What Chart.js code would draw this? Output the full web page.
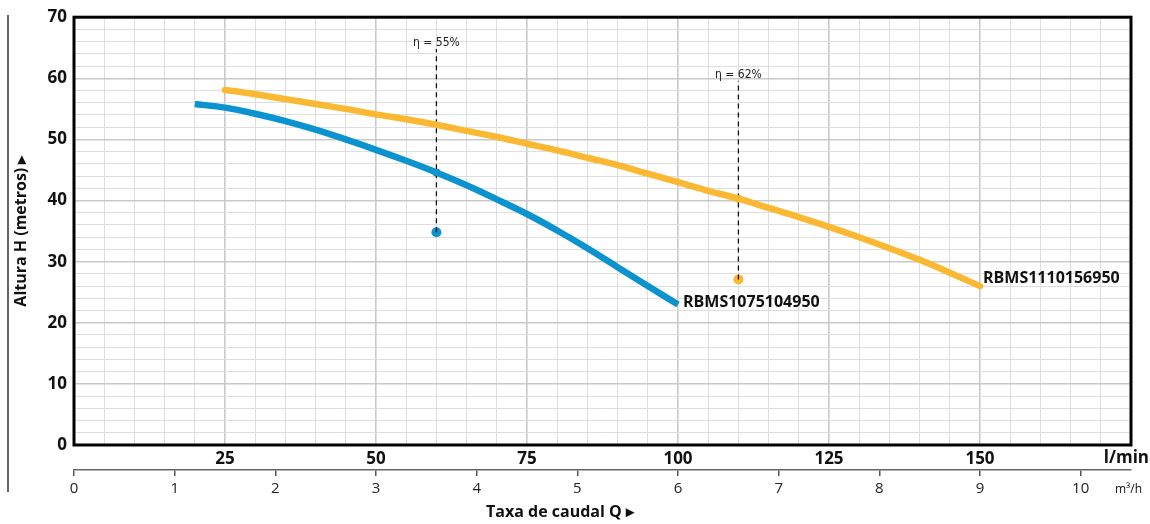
<!DOCTYPE html>
<html>
<head>
<meta charset="utf-8">
<script src="https://cdn.jsdelivr.net/npm/chart.js@4"></script>
<style>
  html, body { margin: 0; padding: 0; background: #fff; }
  #wrap { width: 1150px; height: 524px; }
</style>
</head>
<body>
<div id="wrap"><canvas id="pump-chart" width="1150" height="524"></canvas></div>
<script>
// flow in l/min, head in metres
const flowA = [20, 25, 30, 35, 40, 45, 50, 55, 60, 65, 70, 75, 80, 85, 90, 95, 100];
const headA = [55.8, 55.2, 54.2, 53.0, 51.6, 50.0, 48.3, 46.5, 44.6, 42.5, 40.2, 37.8, 35.1, 32.2, 29.1, 26.0, 23.0];
const flowB = [25, 30, 35, 40, 45, 50, 55, 60, 65, 70, 75, 80, 85, 90, 95, 100, 105, 110, 115, 120, 125, 130, 135, 140, 145, 150];
const headB = [58.1, 57.4, 56.6, 55.8, 55.0, 54.1, 53.3, 52.4, 51.4, 50.4, 49.3, 48.2, 47.0, 45.8, 44.4, 43.0, 41.6, 40.3, 38.8, 37.3, 35.7, 34.0, 32.2, 30.3, 28.2, 26.0];
const models = ['RBMS1075104950', 'RBMS1110156950'];

// best efficiency markers
const effFlow = [60, 110];
const effHead = [34.8, 27.1];
const effTop = [64.8, 59.6];
const effText = ['η = 55%', 'η = 62%'];

const lminLabels = [25, 50, 75, 100, 125, 150];
const m3hLabels = [0, 1, 2, 3, 4, 5, 6, 7, 8, 9, 10];

const blue = '#0b93cf';
const yellow = '#fbb832';
const font = "'Open Sans', 'Noto Sans', sans-serif";

const pts = (xs, ys) => xs.map((x, i) => ({x: x, y: ys[i]}));

const datasets = [
  {data: pts(flowA, headA), borderColor: blue, borderWidth: 6.5, pointRadius: 0, cubicInterpolationMode: 'monotone', borderCapStyle: 'butt'},
  {data: pts(flowB, headB), borderColor: yellow, borderWidth: 6.5, pointRadius: 0, cubicInterpolationMode: 'monotone', borderCapStyle: 'round'}
];
const effColors = [blue, yellow];
const onCurve = [headA[flowA.indexOf(60)], headB[flowB.indexOf(110)]];
effFlow.forEach((f, i) => {
  datasets.push({data: [{x: f, y: effHead[i]}, {x: f, y: effTop[i]}], borderColor: '#111', borderWidth: 1.3, borderDash: [5, 4], pointRadius: 0});
  datasets.push({data: [{x: f, y: effHead[i]}, {x: f, y: onCurve[i]}], showLine: false, pointRadius: [5, 4], pointBackgroundColor: effColors[i], pointBorderWidth: 0});
});

const extras = {
  id: 'extras',
  afterDatasetsDraw(chart) {
    const {ctx, chartArea: a, scales} = chart;
    const x = scales.x, y = scales.y;
    ctx.save();
    // frame
    ctx.strokeStyle = '#000';
    ctx.lineWidth = 3;
    ctx.strokeRect(a.left, a.top, a.right - a.left, a.bottom - a.top);
    // left rule
    ctx.strokeStyle = '#333';
    ctx.lineWidth = 1.5;
    ctx.beginPath();
    ctx.moveTo(8, 15);
    ctx.lineTo(8, 492);
    ctx.stroke();
    // efficiency labels
    ctx.fillStyle = '#222';
    ctx.font = "12px 'Liberation Sans Narrow', 'DejaVu Sans Condensed', sans-serif";
    ctx.textAlign = 'center';
    ctx.textBaseline = 'middle';
    effFlow.forEach((f, i) => {
      ctx.fillText(effText[i], x.getPixelForValue(f), y.getPixelForValue(effTop[i]) - 6);
    });
    // model labels at curve ends
    ctx.fillStyle = '#111';
    ctx.font = 'bold 16px ' + font;
    ctx.textAlign = 'left';
    const la = flowA.length - 1, lb = flowB.length - 1;
    ctx.fillText(models[0], x.getPixelForValue(flowA[la]) + 5, y.getPixelForValue(headA[la]) - 2);
    ctx.fillText(models[1], x.getPixelForValue(flowB[lb]) + 3, y.getPixelForValue(headB[lb]) - 8);
    // unit labels and x title
    ctx.font = 'bold 17px ' + font;
    ctx.textAlign = 'right';
    ctx.fillText('l/min', 1149, 458);
    ctx.font = '12px ' + font;
    ctx.textAlign = 'left';
    ctx.fillText('m³/h', 1115, 490);
    ctx.font = 'bold 16px ' + font;
    ctx.textAlign = 'center';
    ctx.fillText('Taxa de caudal Q ▸', 560, 512);
    ctx.restore();
  }
};

new Chart(document.getElementById('pump-chart'), {
  type: 'line',
  data: {datasets: datasets},
  plugins: [extras],
  options: {
    responsive: false,
    animation: false,
    events: [],
    layout: {padding: {top: 16, right: 19, left: 0, bottom: 0}},
    plugins: {legend: {display: false}, tooltip: {enabled: false}},
    scales: {
      x: {
        type: 'linear', position: 'bottom', min: 0, max: 175,
        afterFit: s => { s.height = 25; },
        border: {display: false},
        grid: {
          drawTicks: false,
          color: c => c.tick.value % 25 === 0 ? '#c9c9c9' : '#dedede',
          lineWidth: c => c.tick.value % 25 === 0 ? 1.6 : 1
        },
        ticks: {
          stepSize: 5, autoSkip: false, maxRotation: 0, padding: 4,
          color: '#111', font: {family: font, size: 17, weight: 'bold'},
          callback: v => lminLabels.includes(v) ? String(v) : ''
        }
      },
      m3h: {
        type: 'linear', position: 'bottom', min: 0, max: 10.5,
        afterFit: s => { s.height = 54; },
        border: {display: true, color: '#666', width: 1.5},
        grid: {drawOnChartArea: false, drawTicks: true, tickLength: 6, color: '#555', lineWidth: 1.5},
        ticks: {
          stepSize: 1, includeBounds: false, autoSkip: false, maxRotation: 0, padding: 4,
          color: '#222', font: {family: font, size: 15},
          callback: v => m3hLabels.includes(v) ? String(v) : ''
        }
      },
      y: {
        type: 'linear', min: 0, max: 70,
        afterFit: s => { s.width = 74; },
        border: {display: false},
        grid: {
          drawTicks: false,
          color: c => c.tick.value % 10 === 0 ? '#c9c9c9' : '#dedede',
          lineWidth: c => c.tick.value % 10 === 0 ? 1.6 : 1
        },
        ticks: {
          stepSize: 2, autoSkip: false, padding: 7,
          color: '#111', font: {family: font, size: 17, weight: 'bold'},
          callback: v => v % 10 === 0 ? String(v) : ''
        },
        title: {
          display: true, text: 'Altura H (metros) ▸',
          color: '#111', font: {family: font, size: 16, weight: 'bold'},
          padding: {top: 12, bottom: 0}
        }
      }
    }
  }
});
</script>
</body>
</html>
